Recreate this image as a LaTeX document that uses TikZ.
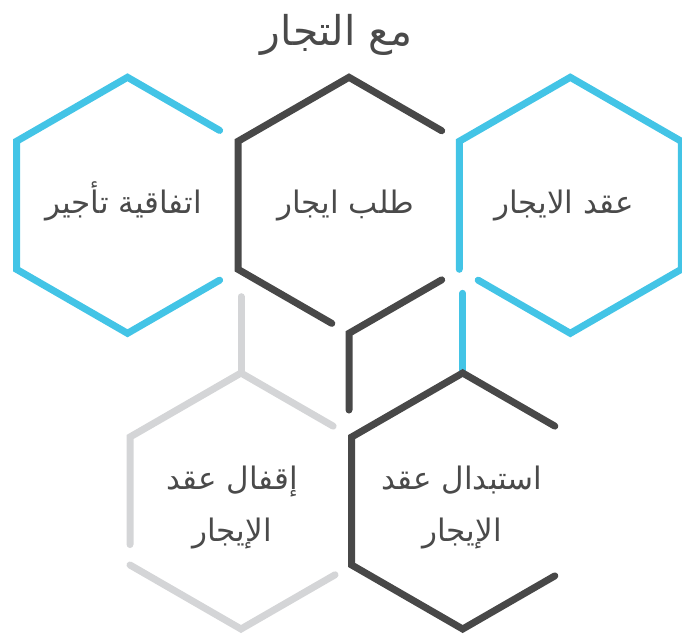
\documentclass[tikz,border=0pt]{standalone}
\usepackage{fontspec}
\usetikzlibrary{calc}
\TeXXeTstate=1
\newfontfamily\arabicfont[Script=Arabic]{DejaVu Sans}
\definecolor{hexblue}{HTML}{43C4E6}
\definecolor{hexdark}{HTML}{484848}
\definecolor{hexgray}{HTML}{D4D5D7}
\definecolor{txt}{HTML}{4A4A4A}
\newcommand\defhex[3]{%
  \coordinate (#1T)  at (#2,#3-128);
  \coordinate (#1UR) at (#2+111,#3-64);
  \coordinate (#1LR) at (#2+111,#3+64);
  \coordinate (#1B)  at (#2,#3+128);
  \coordinate (#1LL) at (#2-111,#3+64);
  \coordinate (#1UL) at (#2-111,#3-64);
  \coordinate (#1c)  at (#2,#3);}
\tikzset{
  hexline/.style={line width=7pt, line cap=round, line join=miter},
  blueline/.style={hexline, draw=hexblue},
  darkline/.style={hexline, draw=hexdark},
  grayline/.style={hexline, draw=hexgray},
  label/.style={text=txt, font=\arabicfont\fontsize{31}{52.7}\selectfont, align=center, anchor=base, inner sep=0pt},
  titlelabel/.style={text=txt, font=\arabicfont\fontsize{41}{48}\selectfont, anchor=base, inner sep=0pt}
}
\begin{document}
\begin{tikzpicture}[x=1pt,y=-1pt]
\useasboundingbox (0,0) rectangle (682,635);
\defhex{A}{127.5}{205.3}
\defhex{M}{349}{205.3}
\defhex{C}{570.3}{205.3}
\defhex{G}{241}{501}
\defhex{D}{462.7}{501}
\coordinate (Mstem) at (349,410);
\coordinate (Gstem) at (241,296.7);
\coordinate (Cstemtop) at (462.7,293.3);
\coordinate (Cstembot) at (462.7,371);
% top left blue
\draw[blueline] ($(AB)!0.83!(ALR)$) -- (AB) -- (ALL) -- (AUL) -- (AT) -- ($(AT)!0.83!(AUR)$);
% top middle dark
\draw[darkline] ($(MLL)!0.845!(MB)$) -- (MLL) -- (MUL) -- (MT) -- ($(MT)!0.835!(MUR)$);
\draw[darkline] ($(MLR)!0.165!(MB)$) -- (MB) -- (Mstem);
% top right blue
\draw[blueline] (CLL) -- (CUL) -- (CT) -- (CUR) -- (CLR) -- (CB) -- ($(CB)!0.83!(CLL)$);
\draw[blueline] (Cstemtop) -- (Cstembot);
% bottom left gray
\draw[grayline] (Gstem) -- (GT);
\draw[grayline] ($(GT)!0.83!(GUR)$) -- (GT) -- (GUL) -- ($(GUL)!0.84!(GLL)$);
\draw[grayline] (GLL) -- (GB) -- ($(GB)!0.847!(GLR)$);
% bottom right dark
\draw[darkline] ($(DT)!0.83!(DUR)$) -- (DT) -- (DUL) -- (DLL) -- (DB) -- ($(DB)!0.83!(DLR)$);
% texts
\node[titlelabel] (title) at (336.7,45) {\beginR مع التجار\endR};
\node[label] (tA) at (123.5,213) {\beginR اتفاقية تأجير\endR};
\node[label] (tM) at (345.5,213) {\beginR طلب ايجار\endR};
\node[label] (tC) at (564,213) {\beginR عقد الايجار\endR};
\node[label] (tG) at (232,541.7) {\beginR إقفال عقد\endR\\\beginR الإيجار\endR};
\node[label] (tD) at (462,541.7) {\beginR استبدال عقد\endR\\\beginR الإيجار\endR};
\end{tikzpicture}
\end{document}
